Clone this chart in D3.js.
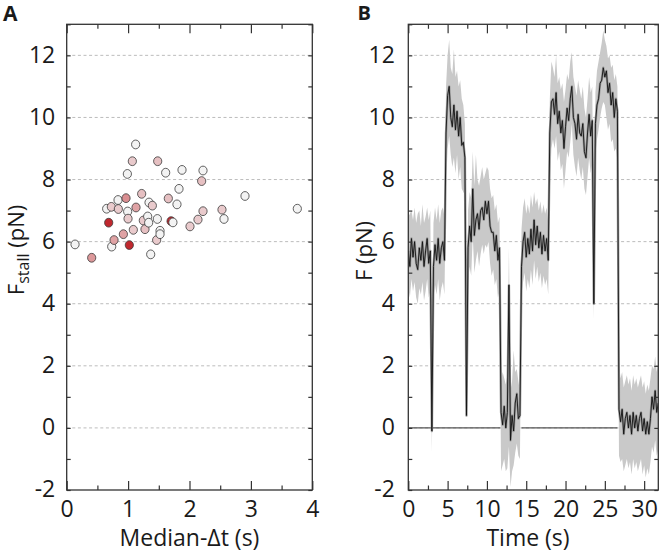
<!DOCTYPE html>
<html><head><meta charset="utf-8">
<script src="https://cdn.jsdelivr.net/npm/d3@7"></script>
<style>
body{margin:0;background:#fff}
svg{display:block}
text{font-family:"Open Sans","Noto Sans",sans-serif;fill:#1a1a1a}
</style>
</head><body><svg id="c" width="661" height="552"></svg>
<script>
// ---------------- data ----------------
const yTickValues = [-2, 0, 2, 4, 6, 8, 10, 12];
const xTicksA = [0, 1, 2, 3, 4];
const xTicksB = [0, 5, 10, 15, 20, 25, 30];

// Panel A: scatter (Median-Δt vs F_stall), shade = colour intensity (0 white .. 1 dark red)
const medianDt = [0.136,0.407,0.651,0.727,0.836,0.841,0.684,0.733,0.771,0.923,0.966,0.988,0.993,0.999,1.020,1.069,1.085,1.123,1.129,1.221,1.248,1.275,1.341,1.319,1.335,1.368,1.395,1.465,1.482,1.476,1.520,1.520,1.612,1.655,1.700,1.730,1.796,1.829,1.878,2.008,2.138,2.198,2.220,2.220,2.529,2.562,2.904,3.756];
const fStall   = [5.91,5.48,7.06,7.12,7.34,7.05,6.61,5.84,6.05,6.24,7.40,8.18,6.97,6.74,5.89,8.59,6.38,9.13,7.10,7.54,6.68,6.40,7.26,6.81,6.61,5.59,7.16,6.05,8.59,6.73,6.35,6.24,8.22,7.39,6.66,6.62,7.20,7.70,8.31,6.49,6.71,7.95,8.29,6.98,7.03,6.73,7.47,7.06];
const shade    = [0,0.45,0,0.2,0,0.2,1,0,0.4,0.4,0.5,0,0,0.2,1,0.2,0.2,0,0.4,0.25,0.2,0.25,0,0,0,0,0.2,0.2,0.25,0,0,0,0,0.25,1,0,0,0,0,0.2,0.2,0.25,0,0.2,0.2,0,0,0];

// Panel B: force trace, sampled every 0.2 s from t = 0
const sampleStep = 0.2;
const forceMean = [
 5.7,5.2,6.1,5.5,6.0,5.3,5.1,5.8,5.4,6.0,5.2,5.7,6.1,5.3,5.7,
 -0.1,
 5.2,5.9,5.4,6.1,5.3,5.8,6.0,5.4,
 9.5,10.7,11.0,10.0,9.7,10.4,9.6,10.2,9.4,10.0,9.1,9.2,8.7,
 0.4,
 5.8,6.5,6.0,7.7,6.2,6.7,6.9,6.4,7.0,7.1,6.7,7.3,6.9,7.3,6.5,6.3,6.3,5.7,6.2,5.4,5.8,
 0.5,0.1,0.7,0.0,0.5,4.6,-0.4,0.4,-0.1,0.8,1.1,0.3,0.4,
 5.2,6.0,6.3,5.5,6.1,5.6,6.4,5.7,6.7,5.9,6.5,5.8,6.3,5.6,6.2,5.7,6.1,5.4,
 9.5,10.5,
 10.6,10.1,10.8,9.8,10.2,9.5,9.9,9.0,9.7,10.3,9.9,10.6,11.0,10.0,9.8,9.3,10.1,9.5,9.4,9.8,8.9,8.7,9.5,10.1,9.4,9.9,
 4.0,
 9.8,10.4,10.6,11.1,11.2,11.6,11.3,11.5,10.8,11.1,10.4,10.8,10.0,10.6,10.2,
 0.6,0.2,0.6,-0.2,0.3,0.5,0.0,0.4,-0.2,0.5,0.0,0.4,-0.1,0.3,0.5,-0.1,0.3,-0.2,0.2,-0.2,0.3,1.0,0.6,1.2,0.5,0.8
];
const forceHigh = [
 6.8,6.9,7.0,6.7,7.1,6.6,6.9,7.0,6.5,7.2,6.6,6.8,7.1,6.7,7.0,
 0.6,
 6.6,7.1,6.7,7.2,6.6,7.0,7.1,6.8,
 11.0,12.0,12.5,11.6,11.4,12.2,11.3,11.5,11.0,11.2,10.6,10.4,9.8,
 1.0,
 7.0,7.6,7.4,8.9,7.8,8.8,8.0,7.8,8.1,8.4,8.0,8.2,8.4,8.3,7.7,7.4,7.5,7.0,7.2,6.6,6.8,
 1.5,1.8,1.6,1.4,1.7,5.8,1.2,1.5,2.5,1.8,1.9,1.5,1.2,
 6.4,7.1,7.4,6.9,7.2,6.9,7.5,7.1,7.6,7.2,7.4,7.0,7.3,6.9,7.2,6.9,7.1,6.6,
 10.6,11.8,
 11.6,11.3,12.0,11.1,11.3,10.9,11.1,10.5,10.9,11.4,11.2,11.8,12.1,11.3,11.0,10.7,11.2,10.9,10.6,11.0,10.3,10.0,10.6,11.3,10.8,11.0,
 4.8,
 10.8,11.5,11.8,12.1,12.4,12.8,12.5,12.3,11.9,12.0,11.6,11.7,11.2,11.4,11.0,
 2.1,1.6,1.8,1.3,1.5,1.7,1.4,1.6,1.2,1.7,1.4,1.6,1.3,1.5,1.7,1.3,1.5,1.1,1.4,1.2,1.6,2.0,1.9,2.3,1.8,2.1
];
const forceLow = [
 4.5,4.2,4.8,4.4,4.7,4.2,4.0,4.5,4.3,4.7,4.1,4.4,4.8,4.2,4.4,
 -0.8,
 4.2,4.6,4.3,4.8,4.1,4.5,4.7,4.3,
 7.8,9.0,9.4,8.8,8.4,8.7,8.2,8.8,8.0,8.4,7.7,7.6,7.5,
 0.3,
 4.7,5.2,4.9,6.2,5.0,5.4,5.7,5.2,5.6,5.9,5.6,5.9,5.8,6.0,5.3,4.9,5.1,4.6,4.8,4.2,4.4,
 -1.4,-1.2,-1.0,-1.4,-1.3,-0.6,-1.9,-1.4,-1.2,-0.8,-0.5,-0.9,-1.0,
 4.3,4.7,5.0,4.4,4.8,4.5,5.1,4.6,5.4,4.8,5.2,4.7,5.0,4.5,4.9,4.6,4.8,4.3,
 7.6,9.0,
 9.3,9.0,9.4,8.6,8.9,8.3,8.5,7.7,8.3,8.9,8.7,9.2,9.8,8.8,8.4,8.1,8.7,8.3,8.0,8.4,7.7,7.5,8.1,8.7,8.2,8.5,
 3.5,
 8.8,9.3,9.6,10.0,10.3,10.5,10.4,10.0,9.6,9.8,9.2,9.3,8.9,9.0,8.6,
 -0.9,-1.1,-1.0,-1.4,-1.2,-1.0,-1.3,-1.1,-1.5,-1.0,-1.3,-1.1,-1.4,-1.2,-1.0,-1.5,-1.2,-1.6,-1.3,-1.5,-1.1,-0.6,-0.8,-0.4,-0.9,-0.7
];
const zeroSegments = [[0, 11.7], [14.4, 26.6]];

// ---------------- layout ----------------
const svg = d3.select("#c");
const plotTop = 24.3, plotBottom = 490;
const y = d3.scaleLinear().domain([-2, 13]).range([plotBottom, plotTop]);
const xA = d3.scaleLinear().domain([0, 4]).range([66.7, 312.3]);
const xB = d3.scaleLinear().domain([0, 31.8]).range([408.3, 658.3]);
const gridVals = yTickValues.filter(v => v > -2);
const allInts = d3.range(-2, 14);
const plainFmt = d => String(d);

function grid(g, x) {
  g.selectAll("line.grid").data(gridVals).join("line")
    .attr("x1", x.range()[0]).attr("x2", x.range()[1])
    .attr("y1", d => y(d)).attr("y2", d => y(d))
    .attr("stroke", "#bcbcbc").attr("stroke-width", 1).attr("stroke-dasharray", "3,2.6");
}

function frame(g, x, majors, minors, labelPad) {
  const x0 = x.range()[0], x1 = x.range()[1];
  const style = s => s.call(a => a.select(".domain").remove())
    .call(a => a.selectAll(".tick line").attr("stroke", "#333").attr("stroke-width", 1.2));
  g.append("g").attr("transform", `translate(0,${plotBottom})`)
    .call(d3.axisBottom(x).tickValues(minors).tickSize(-4.5).tickFormat("")).call(style);
  g.append("g").attr("transform", `translate(0,${plotBottom})`)
    .call(d3.axisBottom(x).tickValues(majors).tickSize(-9).tickFormat("")).call(style);
  g.append("g").attr("transform", `translate(0,${plotBottom})`)
    .call(d3.axisBottom(x).tickValues(majors).tickSize(0).tickPadding(10.5).tickFormat(plainFmt))
    .call(a => a.select(".domain").remove())
    .call(a => a.selectAll("text").attr("font-size", 23).attr("fill", "#1a1a1a")
      .attr("font-family", '"Open Sans", sans-serif'));
  g.append("g").attr("transform", `translate(0,${plotTop})`)
    .call(d3.axisTop(x).tickValues(minors).tickSize(-4.5).tickFormat("")).call(style);
  g.append("g").attr("transform", `translate(0,${plotTop})`)
    .call(d3.axisTop(x).tickValues(majors).tickSize(-9).tickFormat("")).call(style);
  g.append("g").attr("transform", `translate(${x0},0)`)
    .call(d3.axisLeft(y).tickValues(allInts).tickSize(-4).tickFormat("")).call(style);
  g.append("g").attr("transform", `translate(${x1},0)`)
    .call(d3.axisRight(y).tickValues(allInts).tickSize(-4).tickFormat("")).call(style);
  g.append("g").attr("transform", `translate(${x0},0)`)
    .call(d3.axisLeft(y).tickValues(yTickValues).tickSize(0).tickPadding(labelPad).tickFormat(plainFmt))
    .call(a => a.select(".domain").remove())
    .call(a => a.selectAll("text").attr("font-size", 23).attr("fill", "#1a1a1a").attr("dy", "0.3em")
      .attr("font-family", '"Open Sans", sans-serif'));
  g.append("rect").attr("x", x0).attr("y", plotTop).attr("width", x1 - x0).attr("height", plotBottom - plotTop)
    .attr("fill", "none").attr("stroke", "#333").attr("stroke-width", 1.3);
}

// ---------------- Panel A ----------------
const gA = svg.append("g");
grid(gA, xA);
const shadeColor = d3.scaleLinear().domain([0, 1]).range(["#f3f3f3", "#c0282e"]);
gA.selectAll("ellipse.pt").data(d3.range(medianDt.length)).join("ellipse")
  .attr("cx", i => xA(medianDt[i])).attr("cy", i => y(fStall[i]))
  .attr("rx", 4.1).attr("ry", 4.4)
  .attr("fill", i => shadeColor(shade[i]))
  .attr("stroke", "#3a3a3a").attr("stroke-width", 0.8);
frame(gA, xA, xTicksA, [0.5, 1.5, 2.5, 3.5], 11.5);

gA.append("text").attr("x", 189.5).attr("y", 546).attr("text-anchor", "middle")
  .attr("font-size", 23).text("Median-Δt (s)");
const tA = gA.append("text").attr("transform", "translate(23.5,250) rotate(-90)")
  .attr("text-anchor", "middle").attr("font-size", 22);
tA.append("tspan").text("F");
tA.append("tspan").attr("font-size", 16).attr("dy", 5).text("stall");
tA.append("tspan").attr("dy", -5).text(" (pN)");
svg.append("text").attr("x", 3).attr("y", 20.5).attr("font-size", 21).attr("font-weight", "bold")
  .attr("font-family", '"Liberation Sans", Arial, sans-serif').attr("fill", "#000").text("A");

// ---------------- Panel B ----------------
const gB = svg.append("g");
grid(gB, xB);
svg.append("clipPath").attr("id", "clipB").append("rect")
  .attr("x", xB.range()[0]).attr("y", plotTop).attr("width", xB.range()[1] - xB.range()[0]).attr("height", plotBottom - plotTop);
const plotB = gB.append("g").attr("clip-path", "url(#clipB)");
const idx = d3.range(forceMean.length);
const tOf = i => i * sampleStep;
plotB.append("path").datum(idx)
  .attr("d", d3.area().x(i => xB(tOf(i))).y0(i => y(forceLow[i])).y1(i => y(forceHigh[i])))
  .attr("fill", "#c9c9c9");
plotB.selectAll("line.zero").data(zeroSegments).join("line")
  .attr("x1", d => xB(d[0])).attr("x2", d => xB(d[1]))
  .attr("y1", y(0)).attr("y2", y(0))
  .attr("stroke", "#555").attr("stroke-width", 1.1);
plotB.append("path").datum(idx)
  .attr("d", d3.line().x(i => xB(tOf(i))).y(i => y(forceMean[i])))
  .attr("fill", "none").attr("stroke", "#9a9a9a").attr("stroke-width", 2.4).attr("stroke-linejoin", "round");
plotB.append("path").datum(idx)
  .attr("d", d3.line().x(i => xB(tOf(i))).y(i => y(forceMean[i])))
  .attr("fill", "none").attr("stroke", "#111").attr("stroke-width", 0.9).attr("stroke-linejoin", "miter");
frame(gB, xB, xTicksB, [2.5, 7.5, 12.5, 17.5, 22.5, 27.5], 13.5);

gB.append("text").attr("x", 528).attr("y", 546).attr("text-anchor", "middle")
  .attr("font-size", 23).text("Time (s)");
gB.append("text").attr("transform", "translate(372,251) rotate(-90)")
  .attr("text-anchor", "middle").attr("font-size", 22).text("F (pN)");
svg.append("text").attr("x", 357.5).attr("y", 20).attr("font-size", 20).attr("font-weight", "bold")
  .attr("font-family", '"Liberation Sans", Arial, sans-serif').attr("fill", "#000").text("B");
</script>
</body></html>
